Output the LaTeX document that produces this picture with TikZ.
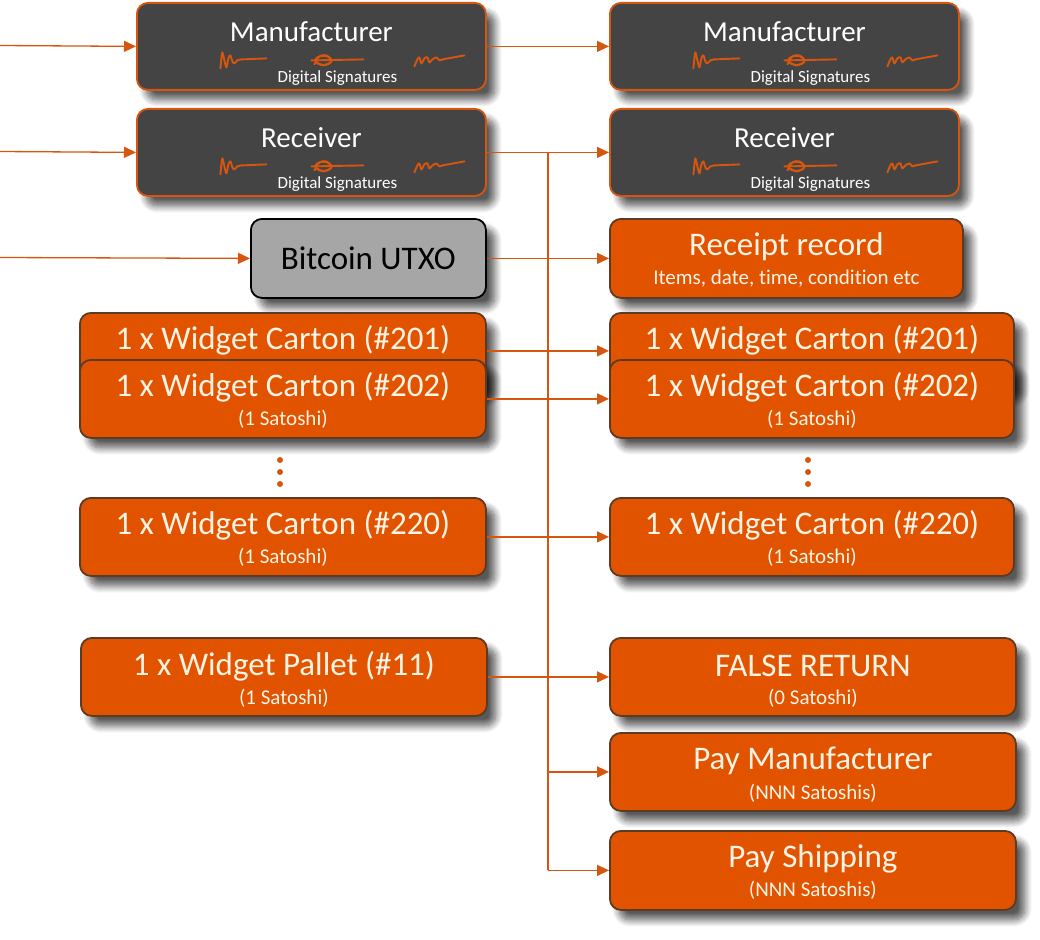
\documentclass[tikz,border=0pt]{standalone}
\usepackage{fontspec}
\setmainfont{Carlito}[Ligatures=NoCommon]
\usetikzlibrary{positioning,arrows.meta,shadows.blur}

\definecolor{txorange}{RGB}{226,83,0}
\definecolor{txline}{RGB}{214,86,16}
\definecolor{txbrown}{RGB}{92,58,36}
\definecolor{txdark}{RGB}{68,68,68}
\definecolor{txgray}{RGB}{166,166,166}
\definecolor{txcream}{RGB}{255,243,228}

% three hand-drawn signature marks inside a signature box
\newcommand{\sigmarks}[1]{
  \begin{scope}[shift={(#1.center)}, draw=txline, line width=1.9pt, line cap=round, line join=round]
    \draw plot[smooth] coordinates {(-91,22) (-90,12) (-89,6) (-87,14) (-85,21) (-83,12) (-81,9) (-79,15) (-77,17) (-74,14) (-70,13)};
    \draw (-70,13) -- (-45,12);
    \draw (12,14) ellipse (8pt and 4.5pt);
    \draw plot[smooth] coordinates {(3,18) (8,10) (15,9) (20,15) (12,19) (4,15)};
    \draw (0,14) -- (52,13);
    \draw plot[smooth] coordinates {(103,20) (106,13) (108,11) (110,17) (113,12) (116,11) (118,16) (121,13) (125,11) (128,14) (131,13)};
    \draw (131,13) -- (153,9);
  \end{scope}
}

\begin{document}
\begin{tikzpicture}[x=1pt, y=-1pt,
    box/.style={rounded corners=11pt, line width=1.8pt, inner sep=0pt, anchor=north west,
        blur shadow={shadow xshift=9pt, shadow yshift=-10pt, shadow blur radius=7pt, shadow blur steps=10, shadow opacity=65}},
    sigbox/.style={box, fill=txdark, draw=txline, minimum width=349pt, minimum height=87pt},
    outbox/.style={box, fill=txorange, draw=txbrown, minimum height=78pt},
    sigttl/.style={text=white, font=\fontsize{29}{33}\selectfont},
    sigsub/.style={text=white, font=\fontsize{17}{20}\selectfont},
    ttl/.style={text=txcream, font=\fontsize{33}{38}\selectfont},
    sub/.style={text=txcream, font=\fontsize{21}{24}\selectfont},
    link/.style={draw=txline, line width=1.3pt, -{Triangle[length=12pt,width=11pt]}},
    bus/.style={draw=txline, line width=2pt}
]
    \useasboundingbox (0,0) rectangle (1040,939);

    % Left side: inputs
    \node[sigbox, label={[sigttl,yshift=14.5pt]center:Manufacturer},
        label={[sigsub,xshift=26pt,yshift=-31.5pt]center:Digital Signatures}] (mfrL) at (136,2) {};
    \node[sigbox, label={[sigttl,yshift=14.5pt]center:Receiver},
        label={[sigsub,xshift=26pt,yshift=-31.5pt]center:Digital Signatures}] (rcvL) at (136,108) {};
    \node[box, fill=txgray, draw=black, minimum width=235pt, minimum height=79pt,
        font=\fontsize{33}{38}\selectfont] (utxo) at (250,218) {Bitcoin UTXO};
    \node[outbox, minimum width=406pt, label={[ttl,yshift=12pt]center:1 x Widget Carton (\#201)}] (c201L) at (79,312) {};
    \node[outbox, minimum width=406pt, label={[ttl,yshift=12pt]center:1 x Widget Carton (\#202)},
        label={[sub,yshift=-20pt]center:(1 Satoshi)}] (c202L) at (79,359) {};
    \node[outbox, minimum width=406pt, label={[ttl,yshift=12pt]center:1 x Widget Carton (\#220)},
        label={[sub,yshift=-20pt]center:(1 Satoshi)}] (c220L) at (79,497) {};
    \node[outbox, minimum width=406pt, label={[ttl,yshift=11pt]center:1 x Widget Pallet (\#11)},
        label={[sub,yshift=-21pt]center:(1 Satoshi)}] (palL) at (80,637) {};

    % Right side: outputs
    \node[sigbox, label={[sigttl,yshift=14.5pt]center:Manufacturer},
        label={[sigsub,xshift=26pt,yshift=-31.5pt]center:Digital Signatures}] (mfrR) at (609,2) {};
    \node[sigbox, label={[sigttl,yshift=14.5pt]center:Receiver},
        label={[sigsub,xshift=26pt,yshift=-31.5pt]center:Digital Signatures}] (rcvR) at (609,108) {};
    \node[outbox, minimum width=353pt, minimum height=79pt, label={[ttl,yshift=11.5pt]center:Receipt record},
        label={[sub,yshift=-20.5pt]center:Items, date, time, condition etc}] (rcpt) at (609,218) {};
    \node[outbox, minimum width=404pt, label={[ttl,yshift=12pt]center:1 x Widget Carton (\#201)}] (c201R) at (609,312) {};
    \node[outbox, minimum width=404pt, label={[ttl,yshift=12pt]center:1 x Widget Carton (\#202)},
        label={[sub,yshift=-20pt]center:(1 Satoshi)}] (c202R) at (609,359) {};
    \node[outbox, minimum width=404pt, label={[ttl,yshift=12pt]center:1 x Widget Carton (\#220)},
        label={[sub,yshift=-20pt]center:(1 Satoshi)}] (c220R) at (609,497) {};
    \node[outbox, minimum width=406pt, label={[ttl,yshift=11pt]center:FALSE RETURN},
        label={[sub,yshift=-21pt]center:(0 Satoshi)}] (fret) at (609,637) {};
    \node[outbox, minimum width=406pt, label={[ttl,yshift=11pt]center:Pay Manufacturer},
        label={[sub,yshift=-21pt]center:(NNN Satoshis)}] (paym) at (609,732) {};
    \node[outbox, minimum width=406pt, minimum height=79pt, label={[ttl,yshift=11.5pt]center:Pay Shipping},
        label={[sub,yshift=-20pt]center:(NNN Satoshis)}] (pays) at (609,830) {};

    % Signatures
    \sigmarks{mfrL}
    \sigmarks{rcvL}
    \sigmarks{mfrR}
    \sigmarks{rcvR}

    % Elided cartons
    \foreach \y in {460,472,484} {
        \fill[txline] (280,\y) circle (3pt);
        \fill[txline] (808,\y) circle (3pt);
    }

    % Incoming links
    \coordinate (inMfr) at (0,45.5);
    \coordinate (inRcv) at (0,151.5);
    \coordinate (inUtxo) at (0,257.5);
    \draw[link] (inMfr) -- (mfrL.west);
    \draw[link] (inRcv) -- (rcvL.west);
    \draw[link] (inUtxo) -- (utxo.west);

    % Inputs to outputs
    \draw[link] (mfrL.east) -- (mfrR.west);
    \draw[link] (rcvL.east) -- (rcvR.west);
    \draw[link] (utxo.east) -- (rcpt.west);
    \draw[link] ([yshift=1pt]c201L.east) -- ([yshift=1pt]c201R.west);
    \draw[link] (c202L.east) -- (c202R.west);
    \draw[link] (c220L.east) -- (c220R.west);
    \draw[link] (palL.east) -- (fret.west);

    % Payment bus
    \coordinate (busTop) at (548,151.5);
    \draw[bus] (busTop) -- (busTop |- pays.west);
    \draw[link] (busTop |- paym.west) -- (paym.west);
    \draw[link] (busTop |- pays.west) -- (pays.west);

\end{tikzpicture}
\end{document}
